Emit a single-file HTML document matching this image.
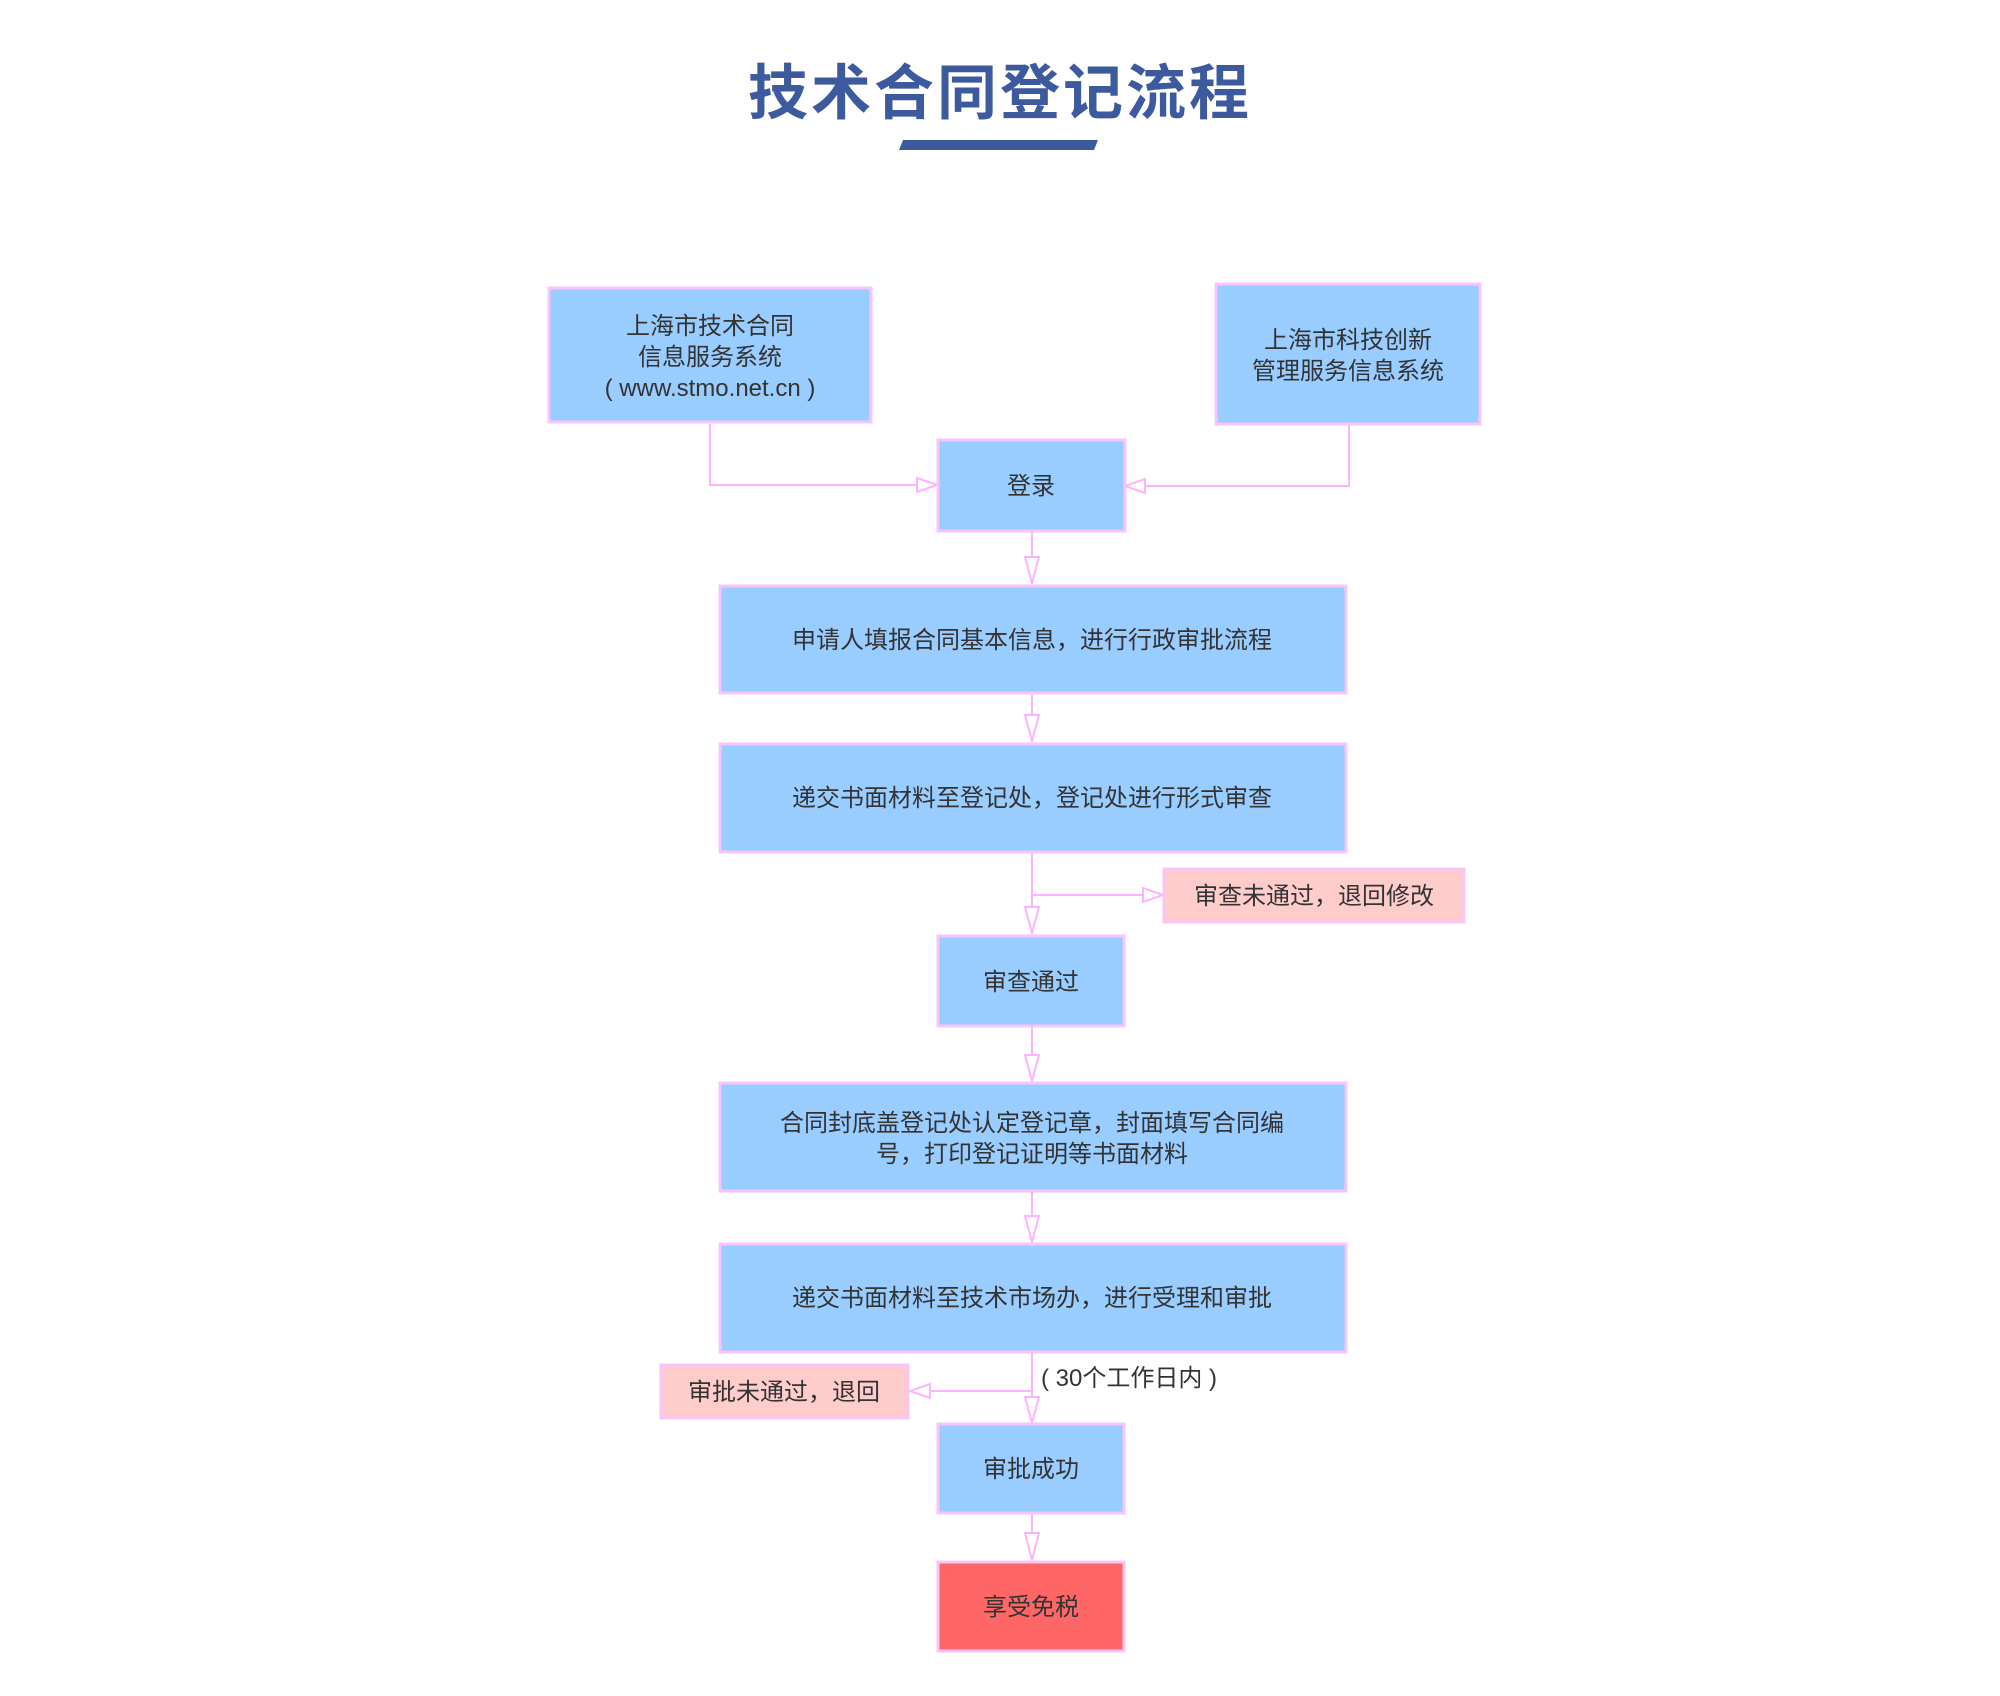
<!DOCTYPE html>
<html><head><meta charset="utf-8"><style>
html,body{margin:0;padding:0;background:#fff;}
svg{display:block;}
text{font-family:"Liberation Sans","Noto Sans CJK SC",sans-serif;fill:#333;font-size:24px;}
.b{fill:#99ccff;stroke:#f9c4f9;stroke-width:3;}
.p{fill:#ffcccc;stroke:#f9c4f9;stroke-width:3;}
.r{fill:#ff6666;stroke:#f9c4f9;stroke-width:3;}
.l{fill:none;stroke:#fdb3fd;stroke-width:2;}
.a{fill:#fff;stroke:#fdb3fd;stroke-width:2;}
</style></head><body>
<svg width="2000" height="1696" viewBox="0 0 2000 1696" xmlns="http://www.w3.org/2000/svg">
<text x="1000" y="114" text-anchor="middle" style="font-size:60px;font-weight:bold;fill:#3d5a9e;letter-spacing:3px">技术合同登记流程</text>
<polygon points="903,140 1098,140 1094,150 899,150" fill="#3d5a9e"/>

<polyline class="l" points="710,424 710,485 925,485"/>
<polygon class="a" points="917,478 937,485 917,492"/>
<polyline class="l" points="1349,425 1349,486 1137,486"/>
<polygon class="a" points="1145,479 1125,486 1145,493"/>

<line class="l" x1="1032" y1="531" x2="1032" y2="560"/>
<polygon class="a" points="1025,557 1039,557 1032,583"/>
<line class="l" x1="1032" y1="693" x2="1032" y2="716"/>
<polygon class="a" points="1025,715 1039,715 1032,741"/>
<line class="l" x1="1032" y1="853" x2="1032" y2="910"/>
<polyline class="l" points="1032,895 1145,895"/>
<polygon class="a" points="1143,888 1163,895 1143,902"/>
<polygon class="a" points="1025,907 1039,907 1032,933"/>
<line class="l" x1="1032" y1="1026" x2="1032" y2="1058"/>
<polygon class="a" points="1025,1055 1039,1055 1032,1081"/>
<line class="l" x1="1032" y1="1191" x2="1032" y2="1218"/>
<polygon class="a" points="1025,1216 1039,1216 1032,1242"/>
<line class="l" x1="1032" y1="1352" x2="1032" y2="1400"/>
<polyline class="l" points="1032,1391 929,1391"/>
<polygon class="a" points="930,1384 910,1391 930,1398"/>
<polygon class="a" points="1025,1397 1039,1397 1032,1423"/>
<line class="l" x1="1032" y1="1513" x2="1032" y2="1536"/>
<polygon class="a" points="1025,1533 1039,1533 1032,1560"/>

<rect class="b" x="549" y="288" width="322" height="134"/>
<text x="710" y="334" text-anchor="middle">上海市技术合同</text>
<text x="710" y="365" text-anchor="middle">信息服务系统</text>
<text x="710" y="396" text-anchor="middle">( www.stmo.net.cn )</text>

<rect class="b" x="1216" y="284" width="264" height="140"/>
<text x="1348" y="348" text-anchor="middle">上海市科技创新</text>
<text x="1348" y="379" text-anchor="middle">管理服务信息系统</text>

<rect class="b" x="938" y="440" width="187" height="91"/>
<text x="1031" y="494" text-anchor="middle">登录</text>

<rect class="b" x="720" y="586" width="626" height="107"/>
<text x="1032" y="648" text-anchor="middle">申请人填报合同基本信息，进行行政审批流程</text>

<rect class="b" x="720" y="744" width="626" height="108"/>
<text x="1032" y="806" text-anchor="middle">递交书面材料至登记处，登记处进行形式审查</text>

<rect class="p" x="1164" y="869" width="300" height="53"/>
<text x="1314" y="904" text-anchor="middle">审查未通过，退回修改</text>

<rect class="b" x="938" y="936" width="186" height="90"/>
<text x="1031" y="990" text-anchor="middle">审查通过</text>

<rect class="b" x="720" y="1083" width="626" height="108"/>
<text x="1032" y="1131" text-anchor="middle">合同封底盖登记处认定登记章，封面填写合同编</text>
<text x="1032" y="1162" text-anchor="middle">号，打印登记证明等书面材料</text>

<rect class="b" x="720" y="1244" width="626" height="108"/>
<text x="1032" y="1306" text-anchor="middle">递交书面材料至技术市场办，进行受理和审批</text>

<text x="1041" y="1386">( 30个工作日内 )</text>

<rect class="p" x="661" y="1365" width="247" height="53"/>
<text x="784" y="1400" text-anchor="middle">审批未通过，退回</text>

<rect class="b" x="938" y="1424" width="186" height="89"/>
<text x="1031" y="1477" text-anchor="middle">审批成功</text>

<rect class="r" x="938" y="1562" width="186" height="89"/>
<text x="1031" y="1615" text-anchor="middle">享受免税</text>
</svg>
</body></html>
